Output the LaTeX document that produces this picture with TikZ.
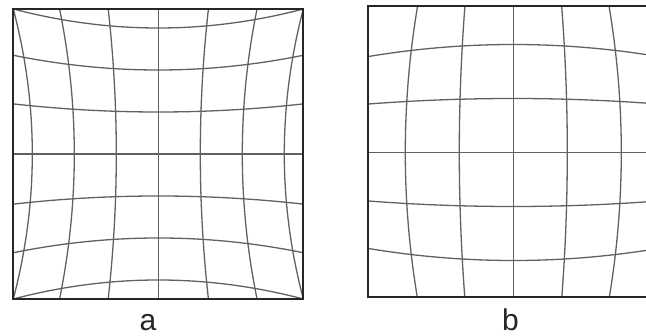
\documentclass[tikz,border=0pt]{standalone}
\usepackage{fontspec}
\setmainfont{Liberation Sans}
\begin{document}
\begin{tikzpicture}[x=1pt,y=-1pt,
  gridline/.style={draw=black!62,line width=1.3pt},
  frame/.style={draw=black!85,line width=2pt},
  lbl/.style={anchor=base,inner sep=0pt,font=\fontsize{30}{30}\selectfont,text=black!85}]
\useasboundingbox (0,0) rectangle (646,336);
% ---- panel a : pincushion ----
\begin{scope}
  \clip (13.3,9) rectangle (303.3,299);
  \foreach \i in {-3,...,3}{
    \draw[gridline] plot[domain=-3.6:3.6,samples=60,smooth]
      ({158.3+\i*42*(1+0.01676*\x*\x)},{154+\x*42*(1+0.01676*\i*\i)});
    \draw[gridline] plot[domain=-3.6:3.6,samples=60,smooth]
      ({158.3+\x*42*(1+0.01676*\i*\i)},{154+\i*42*(1+0.01676*\x*\x)});
  }
\end{scope}
\node[frame,minimum width=290pt,minimum height=290pt,inner sep=0pt] (pa) at (158.3,154) {};
\node[lbl] (la) at (148,330.5) {a};
% ---- panel b : barrel ----
\begin{scope}
  \clip (368.3,6.5) rectangle (658.3,297.5);
  \foreach \i in {-2,...,2}{
    \draw[gridline] plot[domain=-3.3:3.3,samples=60,smooth]
      ({513.3+\i*54*(1-0.0138*\x*\x)},{152.5+\x*54*(1-0.0138*\i*\i)});
    \draw[gridline] plot[domain=-3.3:3.3,samples=60,smooth]
      ({513.3+\x*54*(1-0.0138*\i*\i)},{152.5+\i*54*(1-0.0138*\x*\x)});
  }
\end{scope}
\node[frame,minimum width=290pt,minimum height=291pt,inner sep=0pt] (pb) at (513.3,152) {};
\node[lbl] (lb) at (510.5,330.5) {b};
\end{tikzpicture}
\end{document}
